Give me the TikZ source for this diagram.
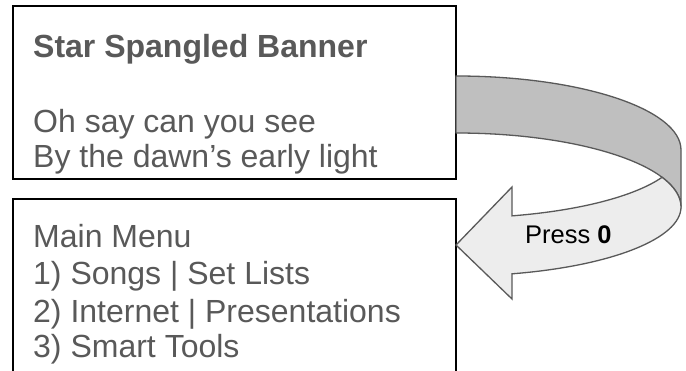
\documentclass[tikz,border=0pt]{standalone}
\usepackage{fontspec}
\setmainfont{Liberation Sans}
\definecolor{txtgray}{HTML}{595959}
\definecolor{banddark}{HTML}{BFBFBF}
\definecolor{bandlight}{HTML}{EDEDED}
\definecolor{bandline}{HTML}{595959}
\begin{document}
\begin{tikzpicture}[x=1pt,y=1pt,
  boxline/.style={draw=black,line width=1.6pt},
  bandedge/.style={draw=bandline,line width=1.3pt,line join=round},
  lyric/.style={anchor=base west,inner sep=0pt,text=txtgray,font=\fontsize{32}{38}\selectfont},
  presslbl/.style={anchor=base west,inner sep=0pt,text=black,font=\fontsize{25.5}{30}\selectfont}]
\useasboundingbox (0,0) rectangle (686,370);
\fill[white] (0,0) rectangle (686,370);
% boxes
\draw[boxline] (13,364) rectangle (456,191);
\draw[boxline] (13,-5) -- (13,171) -- (456,171) -- (456,-5);
% curved band (back part)
\path[bandedge,fill=banddark] (456,294) arc[start angle=90,end angle=0,x radius=225pt,y radius=74pt]
  -- (681,163) arc[start angle=0,end angle=90,x radius=225pt,y radius=74pt] -- cycle;
% front part with arrow head
\coordinate (tip) at (456,125);
\path[bandedge,fill=bandlight,line join=miter] (681,163) arc[start angle=0,end angle=-75.59,x radius=225pt,y radius=69pt]
  -- (512,71) -- (tip) -- (512,183) -- (512,154.14)
  arc[start angle=-75.59,end angle=-23.67,x radius=225pt,y radius=68pt]
  arc[start angle=23.67,end angle=0,x radius=225pt,y radius=74pt] -- cycle;
% texts
\node[lyric] (title) at (33,312) {\textbf{Star Spangled Banner}};
\node[lyric] (l1) at (33,237) {Oh say can you see};
\node[lyric] (l2) at (33,202) {By the dawn’s early light};
\node[lyric] (m0) at (33,122) {Main Menu};
\node[lyric] (m1) at (33,85) {1) Songs | Set Lists};
\node[lyric] (m2) at (33,48) {2) Internet | Presentations};
\node[lyric] (m3) at (33,13) {3) Smart Tools};
\node[presslbl] (press) at (525,126) {Press \textbf{0}};
\end{tikzpicture}
\end{document}
